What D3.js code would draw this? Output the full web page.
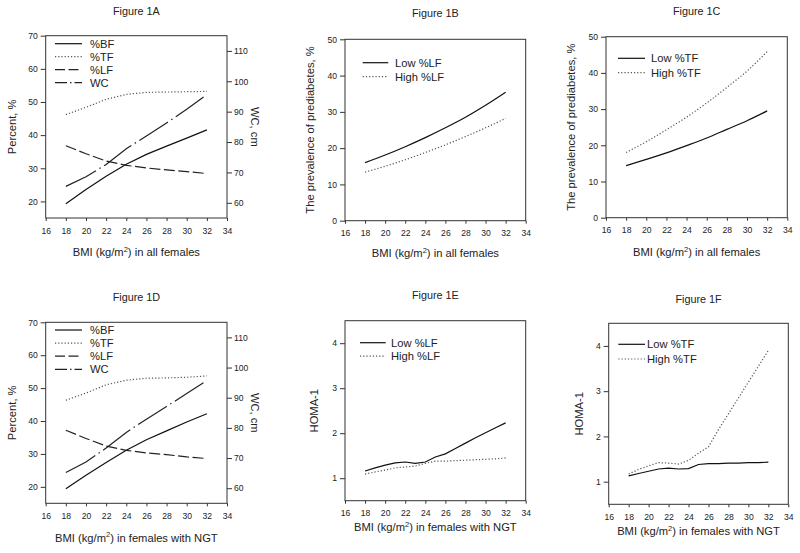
<!DOCTYPE html>
<html><head><meta charset="utf-8">
<script src="https://cdn.jsdelivr.net/npm/d3@7"></script>
<style>
body{margin:0;background:#fff}
svg{font-family:"Liberation Sans",Arial,sans-serif}
</style>
</head><body>
<svg id="chart" width="800" height="553"></svg>
<script>
// ---------- data ----------
const bmi = [18, 20, 22, 24, 26, 28, 30, 32];
const bmiHoma = [18, 19, 20, 21, 22, 23, 24, 25, 26, 27, 28, 29, 30, 31, 32];
const xTicks = [16, 18, 20, 22, 24, 26, 28, 30, 32, 34];
const pctTicks = [20, 30, 40, 50, 60, 70];
const wcTicks = [60, 70, 80, 90, 100, 110];
const prevTicks = [0, 10, 20, 30, 40, 50];
const homaTicks = [1, 2, 3, 4];

// Figure 1A (all females)
const aBF = [19.3, 23.6, 27.6, 31.2, 34.2, 36.7, 39.1, 41.6];
const aTF = [46.2, 48.4, 50.8, 52.3, 52.9, 53.0, 53.1, 53.2];
const aLF = [36.8, 34.4, 32.2, 30.9, 30.1, 29.5, 29.0, 28.4];
const aWC = [65.4, 68.6, 72.6, 77.8, 82.0, 86.3, 90.8, 95.6];
// Figure 1D (females with NGT)
const dBF = [19.4, 23.5, 27.4, 31.1, 34.3, 37.0, 39.7, 42.2];
const dTF = [46.3, 48.5, 51.0, 52.4, 53.0, 53.1, 53.3, 53.7];
const dLF = [37.2, 34.7, 32.4, 31.1, 30.3, 29.8, 29.1, 28.6];
const dWC = [65.2, 68.7, 73.3, 78.5, 82.9, 87.1, 91.4, 95.7];
// Figure 1B / 1C prevalence of prediabetes
const bLowLF = [16.0, 18.1, 20.4, 22.9, 25.6, 28.5, 31.8, 35.4];
const bHighLF = [13.4, 15.0, 16.8, 18.8, 20.9, 23.2, 25.6, 28.2];
const cLowTF = [14.4, 16.1, 17.9, 19.9, 22.0, 24.4, 26.8, 29.5];
const cHighTF = [18.0, 21.0, 24.3, 27.8, 31.7, 36.0, 40.5, 45.9];
// Figure 1E / 1F HOMA-1
const eLowLF = [1.16, 1.23, 1.29, 1.34, 1.36, 1.33, 1.36, 1.47, 1.54, 1.66, 1.78, 1.90, 2.01, 2.12, 2.23];
const eHighLF = [1.09, 1.14, 1.18, 1.23, 1.25, 1.27, 1.33, 1.38, 1.38, 1.39, 1.40, 1.41, 1.42, 1.43, 1.45];
const fLowTF = [1.13, 1.18, 1.23, 1.28, 1.30, 1.28, 1.29, 1.38, 1.40, 1.40, 1.41, 1.41, 1.42, 1.42, 1.43];
const fHighTF = [1.17, 1.27, 1.35, 1.42, 1.41, 1.39, 1.47, 1.63, 1.77, 2.15, 2.50, 2.85, 3.20, 3.55, 3.90];

// ---------- styles ----------
const styles = {
  solid:   {color: "#111", width: 1.2, dash: null, legendDash: null},
  dotted:  {color: "#555", width: 1.2, dash: "1.2,2", legendDash: "1.2,2"},
  dashed:  {color: "#222", width: 1.2, dash: "11,3.5", legendDash: "10,3.5"},
  dashdot: {color: "#222", width: 1.2, dash: "34,4,1.5,4", legendDash: "12,3,1.5,3"}
};
const textColor = "#222";

const panels = [
  {title: "Figure 1A", box: [45.7, 35.7, 227, 218], titleY: 15, xlab: "in all females", xlabY: 256,
   ylab: "Percent, %", ylabX: 12, yDomain: [15, 70], yTicks: pctTicks,
   y2Domain: [55, 115], y2Ticks: wcTicks, y2lab: "WC, cm", y2labX: 255,
   x: bmi,
   series: [{name: "%BF", v: aBF, s: "solid"}, {name: "%TF", v: aTF, s: "dotted"},
            {name: "%LF", v: aLF, s: "dashed"}, {name: "WC", v: aWC, s: "dashdot", right: true}],
   legend: {x0: 55, x1: 82, tx: 90, y: 43.7, dy: 13}},
  {title: "Figure 1B", box: [345, 39.3, 525.7, 220.7], titleY: 17, xlab: "in all females", xlabY: 257,
   ylab: "The prevalence of prediabetes, %", ylabX: 310, yDomain: [0, 50], yTicks: prevTicks,
   x: bmi, curve: true,
   series: [{name: "Low %LF", v: bLowLF, s: "solid"}, {name: "High %LF", v: bHighLF, s: "dotted"}],
   legend: {x0: 362.7, x1: 388.3, tx: 395, y: 62.7, dy: 14}},
  {title: "Figure 1C", box: [606, 36.7, 787.3, 217.7], titleY: 15, xlab: "in all females", xlabY: 256,
   ylab: "The prevalence of prediabetes, %", ylabX: 571.5, yDomain: [0, 50], yTicks: prevTicks,
   x: bmi, curve: true,
   series: [{name: "Low %TF", v: cLowTF, s: "solid"}, {name: "High %TF", v: cHighTF, s: "dotted"}],
   legend: {x0: 618, x1: 645, tx: 651, y: 58.3, dy: 14.4}},
  {title: "Figure 1D", box: [45.7, 322.3, 227, 503.3], titleY: 300.5, xlab: "in females with NGT", xlabY: 541.5,
   ylab: "Percent, %", ylabX: 12, yDomain: [15, 70], yTicks: pctTicks,
   y2Domain: [55, 115], y2Ticks: wcTicks, y2lab: "WC, cm", y2labX: 255,
   x: bmi,
   series: [{name: "%BF", v: dBF, s: "solid"}, {name: "%TF", v: dTF, s: "dotted"},
            {name: "%LF", v: dLF, s: "dashed"}, {name: "WC", v: dWC, s: "dashdot", right: true}],
   legend: {x0: 55, x1: 82, tx: 90, y: 330, dy: 13.1}},
  {title: "Figure 1E", box: [345, 320.7, 525.7, 500.7], titleY: 299, xlab: "in females with NGT", xlabY: 531,
   ylab: "HOMA-1", ylabX: 314.5, yDomain: [0.5, 4.5], yTicks: homaTicks,
   x: bmiHoma,
   series: [{name: "Low %LF", v: eLowLF, s: "solid"}, {name: "High %LF", v: eHighLF, s: "dotted"}],
   legend: {x0: 360, x1: 385.7, tx: 391, y: 342.7, dy: 13.5}},
  {title: "Figure 1F", box: [608.7, 323.3, 788.3, 504.3], titleY: 302.5, xlab: "in females with NGT", xlabY: 535,
   ylab: "HOMA-1", ylabX: 579, yDomain: [0.5, 4.5], yTicks: homaTicks,
   x: bmiHoma,
   series: [{name: "Low %TF", v: fLowTF, s: "solid"}, {name: "High %TF", v: fHighTF, s: "dotted"}],
   legend: {x0: 618.3, x1: 645, tx: 647, y: 344.3, dy: 14.7}}
];

const svg = d3.select("#chart");

function styleAxis(g) {
  g.selectAll(".domain").remove();
  g.selectAll(".tick line").attr("stroke", "#333").attr("stroke-width", 1);
  g.selectAll(".tick text").attr("fill", textColor).attr("font-size", 8.6)
    .attr("font-family", '"Liberation Sans",Arial,sans-serif');
}

panels.forEach(p => {
  const [L, T, R, B] = p.box;
  const g = svg.append("g");
  const x = d3.scaleLinear().domain([16, 34]).range([L, R]);
  const y = d3.scaleLinear().domain(p.yDomain).range([B, T]);
  const y2 = p.y2Domain ? d3.scaleLinear().domain(p.y2Domain).range([B, T]) : null;

  // axes
  g.append("g").attr("transform", `translate(0,${B})`)
    .call(d3.axisBottom(x).tickValues(xTicks).tickFormat(d3.format("d")).tickSize(3).tickPadding(6.5).tickSizeOuter(0))
    .call(styleAxis);
  g.append("g").attr("transform", `translate(${L},0)`)
    .call(d3.axisLeft(y).tickValues(p.yTicks).tickFormat(d3.format("d")).tickSize(5).tickPadding(3).tickSizeOuter(0))
    .call(styleAxis);
  if (y2) {
    g.append("g").attr("transform", `translate(${R},0)`)
      .call(d3.axisRight(y2).tickValues(p.y2Ticks).tickFormat(d3.format("d")).tickSize(5).tickPadding(2).tickSizeOuter(0))
      .call(styleAxis);
  }
  // frame
  g.append("rect").attr("x", L).attr("y", T).attr("width", R - L).attr("height", B - T)
    .attr("fill", "none").attr("stroke", "#333").attr("stroke-width", 1);

  // lines
  p.series.forEach(s => {
    const st = styles[s.s];
    const ys = s.right ? y2 : y;
    const line = d3.line().x((d, i) => x(p.x[i])).y(d => ys(d))
      .curve(p.curve ? d3.curveMonotoneX : d3.curveLinear);
    g.append("path").datum(s.v).attr("d", line).attr("fill", "none")
      .attr("stroke", st.color).attr("stroke-width", st.width)
      .attr("stroke-dasharray", st.dash);
  });

  // legend
  p.series.forEach((s, i) => {
    const st = styles[s.s];
    const ly = p.legend.y + i * p.legend.dy;
    g.append("line").attr("x1", p.legend.x0).attr("x2", p.legend.x1).attr("y1", ly).attr("y2", ly)
      .attr("stroke", st.color).attr("stroke-width", st.width).attr("stroke-dasharray", st.legendDash);
    g.append("text").attr("x", p.legend.tx).attr("y", ly).attr("dy", "0.35em")
      .attr("font-size", 11.2).attr("fill", textColor).text(s.name);
  });

  // title
  const cx = (L + R) / 2;
  g.append("text").attr("x", cx).attr("y", p.titleY).attr("text-anchor", "middle")
    .attr("font-size", 10.8).attr("fill", textColor).text(p.title);

  // x label with superscript
  const xl = g.append("text").attr("x", cx).attr("y", p.xlabY).attr("text-anchor", "middle")
    .attr("font-size", 11.2).attr("fill", textColor);
  xl.append("tspan").text("BMI (kg/m");
  xl.append("tspan").attr("dy", -4.5).attr("font-size", 7.5).text("2");
  xl.append("tspan").attr("dy", 4.5).text(") " + p.xlab);

  // y label
  const cy = (T + B) / 2;
  g.append("text").attr("transform", `translate(${p.ylabX},${cy}) rotate(-90)`)
    .attr("text-anchor", "middle").attr("dy", "0.35em")
    .attr("font-size", 11.2).attr("fill", textColor).text(p.ylab);
  if (p.y2lab) {
    g.append("text").attr("transform", `translate(${p.y2labX},${cy}) rotate(90)`)
      .attr("text-anchor", "middle").attr("dy", "0.35em")
      .attr("font-size", 11.2).attr("fill", textColor).text(p.y2lab);
  }
});
</script>
</body></html>
